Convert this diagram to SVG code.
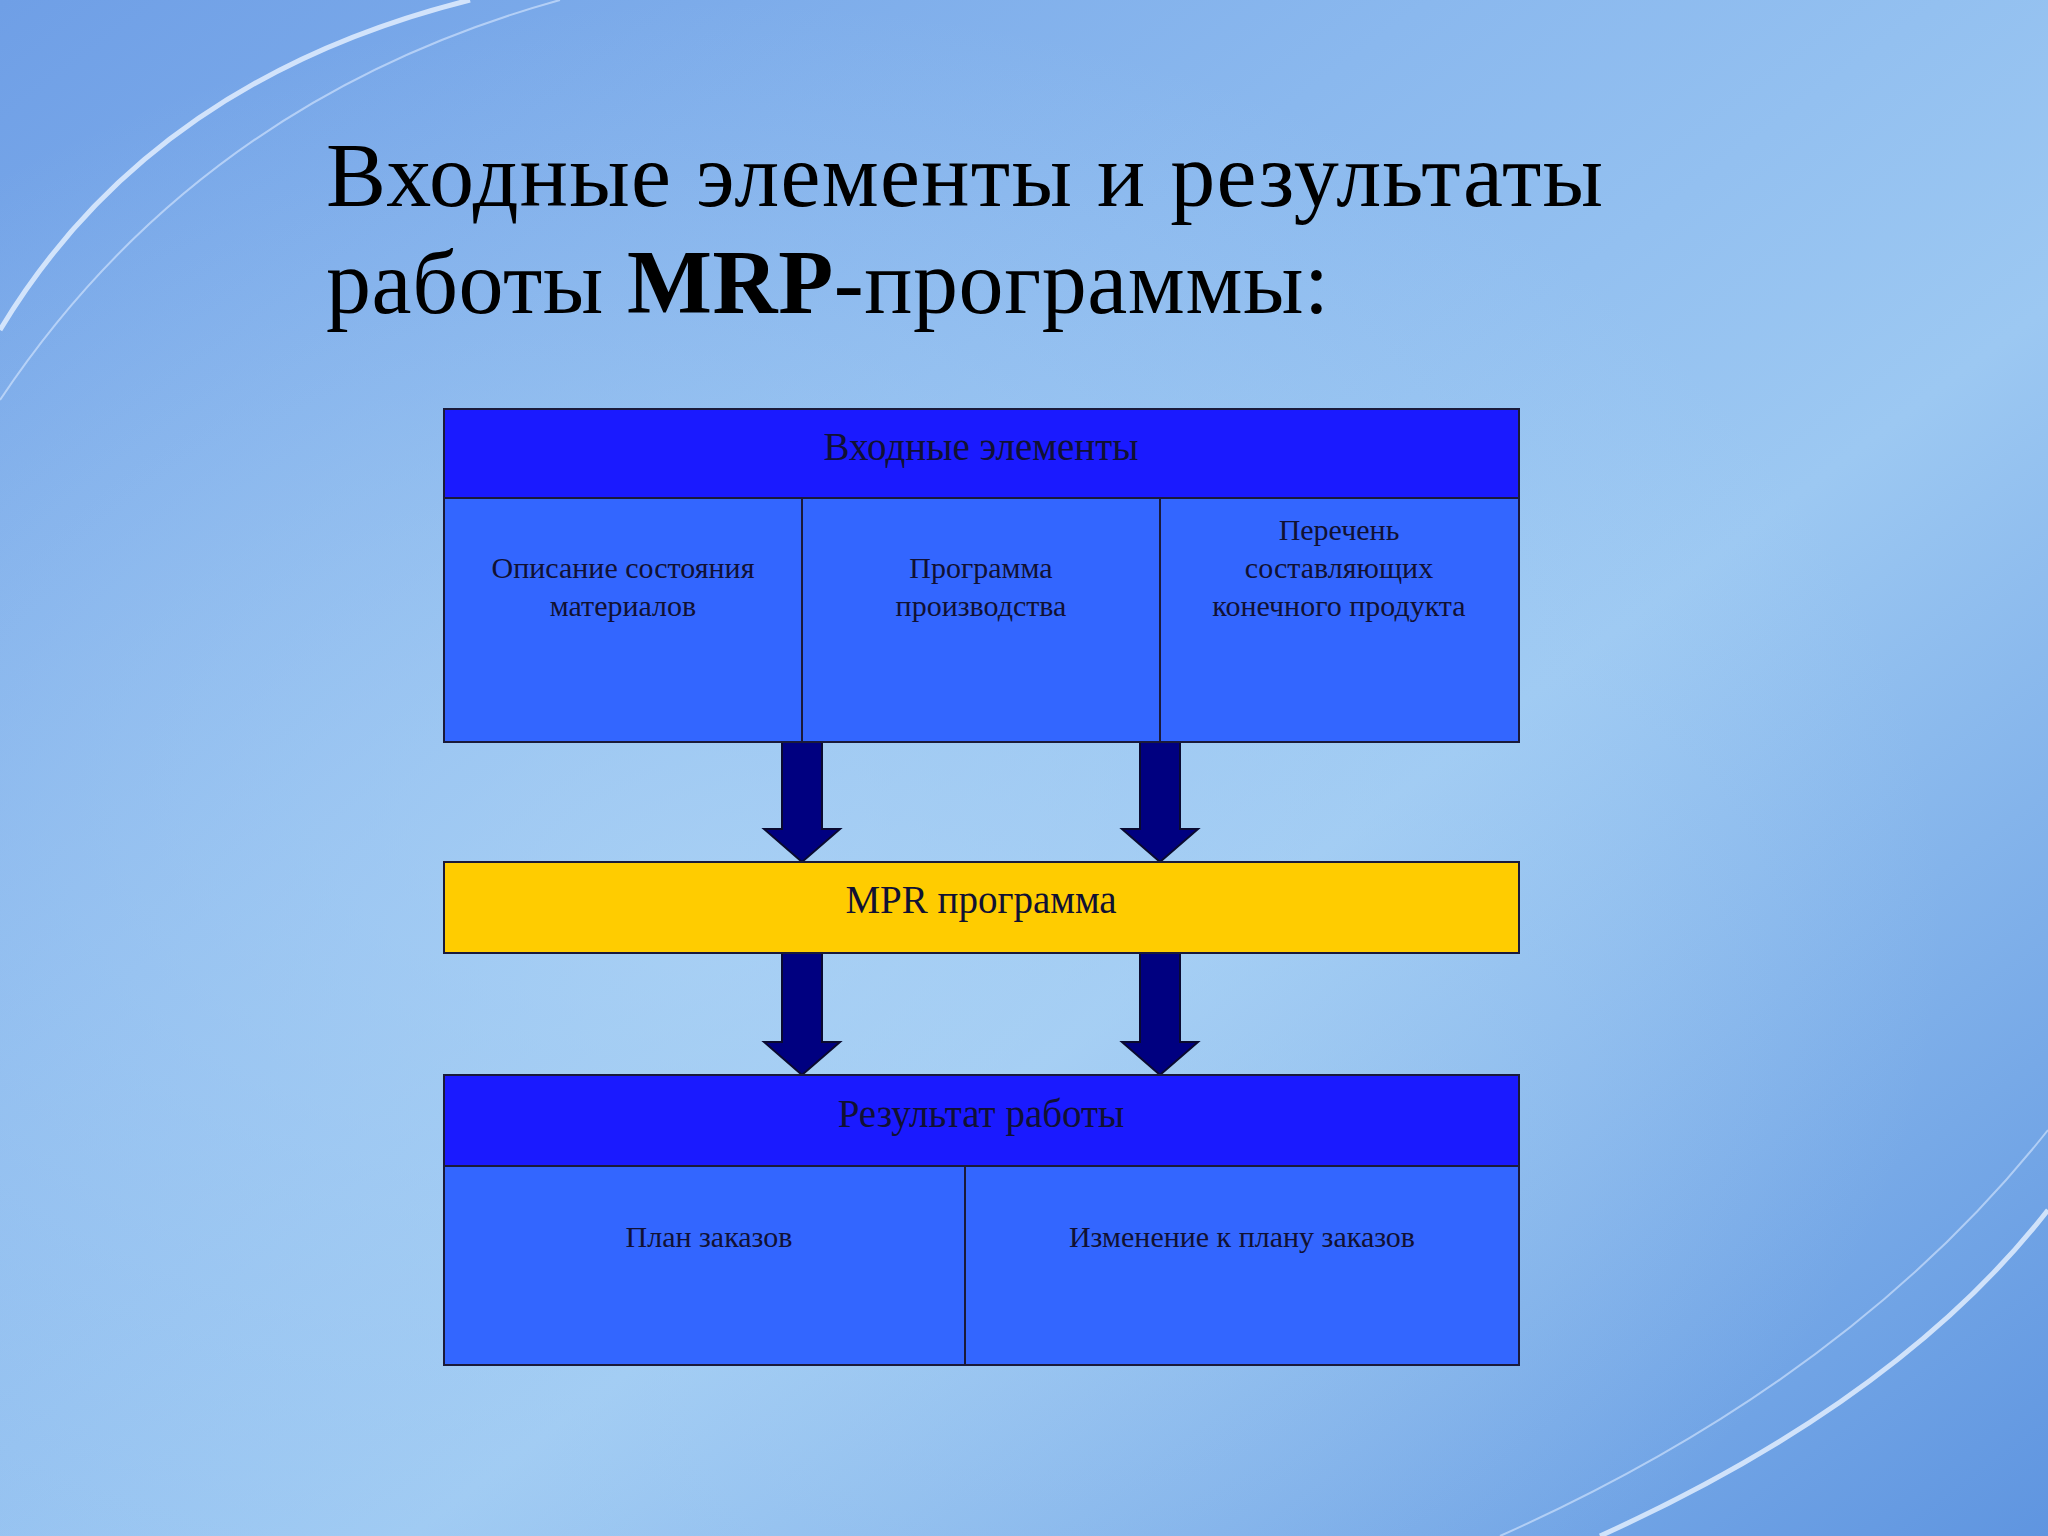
<svg xmlns="http://www.w3.org/2000/svg" width="2048" height="1536" viewBox="0 0 2048 1536">
<defs>
<linearGradient id="bg" x1="0" y1="0" x2="1" y2="1">
<stop offset="0" stop-color="#6f9fe6"/>
<stop offset="0.35" stop-color="#8ab8ee"/>
<stop offset="0.6" stop-color="#9cc8f2"/>
<stop offset="1" stop-color="#5f95e0"/>
</linearGradient>
<radialGradient id="glow" cx="0.35" cy="0.6" r="0.6">
<stop offset="0" stop-color="#b0d6f6" stop-opacity="0.7"/>
<stop offset="1" stop-color="#b0d6f6" stop-opacity="0"/>
</radialGradient>
<style>
.box{stroke:#1a1a3a;stroke-width:2}
.hdr{fill:#1a1aff}
.cell{fill:#3366ff}
.t{font-family:"Liberation Serif",serif;fill:#111133;text-anchor:middle}
.arr{fill:#000080;stroke:#0a0a30;stroke-width:2}
</style>
</defs>
<rect width="2048" height="1536" fill="url(#bg)"/>
<rect width="2048" height="1536" fill="url(#glow)"/>
<path d="M0 330 Q150 80 470 0" fill="none" stroke="#e8f2ff" stroke-width="5" opacity="0.8"/>
<path d="M0 400 Q200 100 560 0" fill="none" stroke="#dbe9ff" stroke-width="2" opacity="0.6"/>
<path d="M1600 1536 Q1900 1400 2048 1210" fill="none" stroke="#e8f2ff" stroke-width="5" opacity="0.8"/>
<path d="M1500 1536 Q1850 1380 2048 1130" fill="none" stroke="#dbe9ff" stroke-width="2" opacity="0.6"/>
<g id="title" font-family="Liberation Serif, serif" font-size="90" fill="#000">
<text x="326" y="206" textLength="1277" lengthAdjust="spacing">Входные элементы и результаты</text>
<text x="326" y="313" textLength="1003" lengthAdjust="spacing">работы <tspan font-weight="bold">MRP</tspan>-программы:</text>
</g>
<g id="connectors">
<polygon class="arr" points="782,742 822,742 822,829 840,829 802,862 764,829 782,829"/>
<polygon class="arr" points="1140,742 1180,742 1180,829 1198,829 1160,862 1122,829 1140,829"/>
<polygon class="arr" points="782,953 822,953 822,1042 840,1042 802,1075 764,1042 782,1042"/>
<polygon class="arr" points="1140,953 1180,953 1180,1042 1198,1042 1160,1075 1122,1042 1140,1042"/>
</g>
<g id="inputs">
<rect class="box hdr" x="444" y="409" width="1075" height="89"/>
<text class="t" x="981" y="460" font-size="39">Входные элементы</text>
<rect class="box cell" x="444" y="498" width="358" height="244"/>
<rect class="box cell" x="802" y="498" width="358" height="244"/>
<rect class="box cell" x="1160" y="498" width="359" height="244"/>
<g font-size="30">
<text class="t" x="623" y="578">Описание состояния</text>
<text class="t" x="623" y="616">материалов</text>
<text class="t" x="981" y="578">Программа</text>
<text class="t" x="981" y="616">производства</text>
<text class="t" x="1339" y="540">Перечень</text>
<text class="t" x="1339" y="578">составляющих</text>
<text class="t" x="1339" y="616">конечного продукта</text>
</g>
</g>
<g id="mrp">
<rect class="box" x="444" y="862" width="1075" height="91" fill="#ffcc00"/>
<text class="t" x="981" y="913" font-size="39">MPR программа</text>
</g>
<g id="results">
<rect class="box hdr" x="444" y="1075" width="1075" height="91"/>
<text class="t" x="981" y="1127" font-size="39">Результат работы</text>
<rect class="box cell" x="444" y="1166" width="521" height="199"/>
<rect class="box cell" x="965" y="1166" width="554" height="199"/>
<text class="t" x="709" y="1247" font-size="30">План заказов</text>
<text class="t" x="1242" y="1247" font-size="30">Изменение к плану заказов</text>
</g>
</svg>
